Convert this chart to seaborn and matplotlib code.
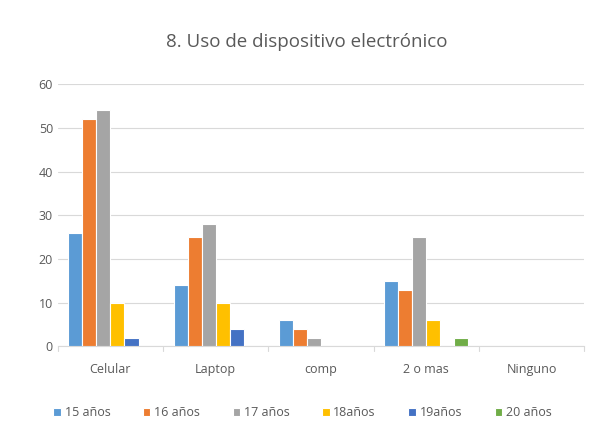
import matplotlib
matplotlib.use("Agg")
import matplotlib.pyplot as plt
import pandas as pd
import seaborn as sns

categories = ["Celular", "Laptop", "comp", "2 o mas", "Ninguno"]
ages = ["15 años", "16 años", "17 años", "18años", "19años", "20 años"]
v15 = [26, 14, 6, 15, 0]
v16 = [52, 25, 4, 13, 0]
v17 = [54, 28, 2, 25, 0]
v18 = [10, 10, 0, 6, 0]
v19 = [2, 4, 0, 0, 0]
v20 = [0, 0, 0, 2, 0]
colors = ["#5B9BD5", "#ED7D31", "#A5A5A5", "#FFC000", "#4472C4", "#70AD47"]


def main():
    rows = []
    for age, vals in zip(ages, [v15, v16, v17, v18, v19, v20]):
        for cat, v in zip(categories, vals):
            rows.append({"cat": cat, "age": age, "value": v})
    df = pd.DataFrame(rows)

    sns.set_style("white")
    plt.rcParams["font.family"] = ["Open Sans", "DejaVu Sans"]

    fig, ax = plt.subplots(figsize=(5.9, 4.43), dpi=100)
    fig.subplots_adjust(left=0.098, right=0.99, top=0.81, bottom=0.218)

    sns.barplot(df, x="cat", y="value", hue="age", order=categories, hue_order=ages,
                palette=colors, saturation=1, width=0.8, edgecolor="white", linewidth=0.8,
                ax=ax, zorder=3)

    ax.set_ylim(0, 60)
    ax.set_yticks(range(0, 61, 10))
    ax.yaxis.grid(True, color="#D9D9D9", linewidth=0.8, zorder=0)
    ax.set_xlabel("")
    ax.set_ylabel("")
    ax.set_xlim(-0.5, 4.5)
    for s in ["left", "right", "top"]:
        ax.spines[s].set_visible(False)
    ax.spines["bottom"].set_color("#D9D9D9")
    ax.tick_params(axis="both", colors="#595959", labelsize=9, length=0)
    ax.tick_params(axis="x", pad=12)
    for xb in [-0.5, 0.5, 1.5, 2.5, 3.5, 4.5]:
        ax.plot([xb, xb], [0, -0.018], transform=ax.get_xaxis_transform(),
                color="#D9D9D9", linewidth=0.8, clip_on=False)

    fig.text(0.52, 0.905, "8. Uso de dispositivo electrónico", fontsize=13.5,
             color="#595959", ha="center", va="center")

    ax.legend(loc="upper center", bbox_to_anchor=(0.465, -0.185), ncol=6, frameon=False,
              fontsize=9, handlelength=0.6, handleheight=0.6, handletextpad=0.3,
              columnspacing=2.6, labelcolor="#595959")

    fig.savefig("out.png", dpi=100)


if __name__ == "__main__":
    main()
